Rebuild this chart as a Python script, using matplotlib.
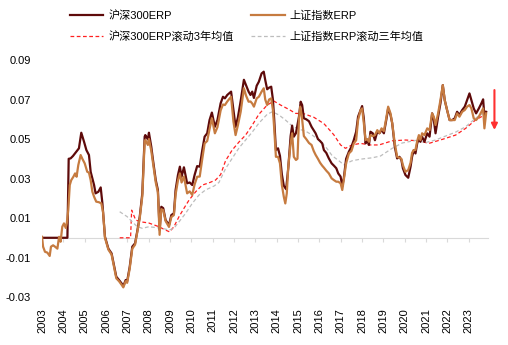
import matplotlib
matplotlib.use("Agg")
import matplotlib.pyplot as plt

plt.rcParams['font.family'] = ['Liberation Sans', 'Noto Sans CJK SC']

# ---- data (x = decimal year) ----
hs300_t = [2003.00, 2004.19, 2004.25, 2004.34, 2004.45, 2004.61, 2004.73, 2004.84, 2004.97, 2005.08,
           2005.20, 2005.28, 2005.44, 2005.51, 2005.64, 2005.75, 2005.83, 2005.95, 2006.11, 2006.26,
           2006.37, 2006.48, 2006.61, 2006.73, 2006.81, 2006.92, 2006.99, 2007.11, 2007.23, 2007.36,
           2007.46, 2007.58, 2007.70, 2007.81, 2007.84, 2007.96, 2008.01, 2008.12, 2008.20, 2008.33,
           2008.43, 2008.51, 2008.59, 2008.68, 2008.79, 2008.95, 2009.06, 2009.18, 2009.26, 2009.37,
           2009.46, 2009.54, 2009.65, 2009.72, 2009.80, 2009.92, 2010.04, 2010.15, 2010.27, 2010.39,
           2010.51, 2010.62, 2010.74, 2010.85, 2010.96, 2011.10, 2011.22, 2011.37, 2011.48, 2011.57,
           2011.68, 2011.86, 2011.97, 2012.07, 2012.18, 2012.31, 2012.46, 2012.56, 2012.68, 2012.77,
           2012.85, 2012.93, 2013.06, 2013.16, 2013.29, 2013.39, 2013.46, 2013.55, 2013.64, 2013.74,
           2013.82, 2013.88, 2013.96, 2014.06, 2014.15, 2014.24, 2014.33, 2014.44, 2014.54, 2014.65,
           2014.72, 2014.80, 2014.90, 2015.04, 2015.12, 2015.19, 2015.27, 2015.38, 2015.51, 2015.63,
           2015.73, 2015.82, 2015.93, 2016.03, 2016.13, 2016.21, 2016.32, 2016.44, 2016.57, 2016.68,
           2016.79, 2016.88, 2016.99, 2017.07, 2017.14, 2017.25, 2017.38, 2017.50, 2017.61, 2017.72,
           2017.81, 2017.93, 2018.00, 2018.08, 2018.16, 2018.24, 2018.32, 2018.39, 2018.50, 2018.60,
           2018.71, 2018.81, 2018.91, 2019.02, 2019.13, 2019.22, 2019.33, 2019.41, 2019.53, 2019.64,
           2019.75, 2019.84, 2019.91, 2020.03, 2020.16, 2020.27, 2020.34, 2020.42, 2020.50, 2020.58,
           2020.66, 2020.73, 2020.81, 2020.92, 2021.05, 2021.16, 2021.28, 2021.36, 2021.44, 2021.56,
           2021.67, 2021.78, 2021.87, 2021.98, 2022.10, 2022.22, 2022.34, 2022.45, 2022.56, 2022.69,
           2022.81, 2022.92, 2023.03, 2023.12, 2023.23, 2023.34, 2023.47, 2023.59, 2023.67, 2023.73,
           2023.81]
hs300_erp = [0.0, 0.0, 0.040, 0.0402, 0.0414, 0.0436, 0.0453, 0.0532, 0.0486, 0.0444,
             0.0419, 0.0334, 0.0267, 0.0225, 0.0233, 0.0255, 0.0174, 0.0005, -0.0055, -0.0079,
             -0.0138, -0.0197, -0.0214, -0.0231, -0.0244, -0.0214, -0.0220, -0.0147, -0.0045, -0.0028,
             0.0031, 0.0107, 0.0225, 0.0512, 0.0520, 0.0498, 0.0532, 0.0461, 0.0394, 0.0292,
             0.0242, 0.0040, 0.0157, 0.0150, 0.0090, 0.0064, 0.0115, 0.0124, 0.0242, 0.0318,
             0.0360, 0.0309, 0.0357, 0.0318, 0.0276, 0.0280, 0.0267, 0.0318, 0.0363, 0.0360,
             0.0444, 0.0512, 0.0529, 0.0596, 0.0634, 0.0562, 0.0596, 0.0681, 0.0714, 0.0706,
             0.0723, 0.0740, 0.0647, 0.0562, 0.0610, 0.0693, 0.0800, 0.0773, 0.0740, 0.0723,
             0.0740, 0.0708, 0.0770, 0.0790, 0.0832, 0.0841, 0.0799, 0.0752, 0.0760, 0.0765,
             0.0700, 0.0600, 0.0444, 0.0453, 0.0415, 0.0320, 0.0263, 0.0246, 0.0355, 0.0515,
             0.0568, 0.0512, 0.0530, 0.0613, 0.0689, 0.0672, 0.0605, 0.0600, 0.0590, 0.0562,
             0.0545, 0.0529, 0.0500, 0.0490, 0.0478, 0.0444, 0.0430, 0.0402, 0.0377, 0.0365,
             0.0352, 0.0326, 0.0310, 0.0262, 0.0300, 0.0400, 0.0436, 0.0461, 0.0495, 0.0537,
             0.0613, 0.0647, 0.0667, 0.0605, 0.0478, 0.0495, 0.0470, 0.0537, 0.0529, 0.0494,
             0.0537, 0.0529, 0.0546, 0.0529, 0.0596, 0.0655, 0.0622, 0.0580, 0.0461, 0.0402,
             0.0410, 0.0394, 0.0352, 0.0318, 0.0304, 0.0360, 0.0410, 0.0444, 0.0427, 0.0478,
             0.0503, 0.0486, 0.0512, 0.0486, 0.0529, 0.0512, 0.0630, 0.0596, 0.0529, 0.0613,
             0.0681, 0.0773, 0.0697, 0.0647, 0.0596, 0.0596, 0.0605, 0.0638, 0.0622, 0.0647,
             0.0664, 0.0697, 0.0731, 0.0697, 0.0655, 0.0630, 0.0655, 0.0681, 0.0701, 0.0613,
             0.0638]

sse_t = [2003.00, 2003.05, 2003.14, 2003.25, 2003.36, 2003.42, 2003.52, 2003.61, 2003.72, 2003.80,
         2003.87, 2003.95, 2004.03, 2004.11, 2004.16, 2004.23, 2004.30, 2004.37, 2004.47, 2004.55,
         2004.62, 2004.70, 2004.81, 2004.89, 2005.00, 2005.12, 2005.20, 2005.28, 2005.36, 2005.44,
         2005.54, 2005.67, 2005.78, 2005.86, 2005.95, 2006.11, 2006.26, 2006.37, 2006.48, 2006.61,
         2006.73, 2006.81, 2006.92, 2006.99, 2007.11, 2007.23, 2007.36, 2007.46, 2007.58, 2007.70,
         2007.81, 2007.84, 2007.96, 2008.01, 2008.12, 2008.20, 2008.33, 2008.43, 2008.51, 2008.59,
         2008.68, 2008.79, 2008.95, 2009.06, 2009.18, 2009.26, 2009.37, 2009.46, 2009.54, 2009.65,
         2009.72, 2009.80, 2009.92, 2010.04, 2010.15, 2010.27, 2010.39, 2010.51, 2010.62, 2010.74,
         2010.85, 2010.96, 2011.10, 2011.22, 2011.37, 2011.48, 2011.57, 2011.68, 2011.86, 2011.97,
         2012.07, 2012.18, 2012.31, 2012.46, 2012.56, 2012.68, 2012.77, 2012.85, 2012.93, 2013.06,
         2013.16, 2013.29, 2013.39, 2013.46, 2013.55, 2013.64, 2013.74, 2013.82, 2013.88, 2013.96,
         2014.06, 2014.15, 2014.24, 2014.33, 2014.40, 2014.47, 2014.54, 2014.65, 2014.72, 2014.80,
         2014.90, 2014.97, 2015.04, 2015.10, 2015.17, 2015.27, 2015.38, 2015.51, 2015.63, 2015.73,
         2015.82, 2015.93, 2016.03, 2016.13, 2016.21, 2016.32, 2016.44, 2016.57, 2016.68, 2016.79,
         2016.88, 2016.99, 2017.07, 2017.14, 2017.25, 2017.38, 2017.50, 2017.61, 2017.72, 2017.81,
         2017.93, 2018.00, 2018.08, 2018.16, 2018.24, 2018.32, 2018.39, 2018.50, 2018.60, 2018.71,
         2018.81, 2018.91, 2019.02, 2019.13, 2019.22, 2019.33, 2019.41, 2019.53, 2019.64, 2019.75,
         2019.84, 2019.91, 2020.03, 2020.16, 2020.27, 2020.34, 2020.42, 2020.50, 2020.58, 2020.66,
         2020.73, 2020.81, 2020.92, 2021.05, 2021.16, 2021.28, 2021.36, 2021.44, 2021.56, 2021.67,
         2021.78, 2021.87, 2021.98, 2022.10, 2022.22, 2022.34, 2022.45, 2022.56, 2022.69, 2022.81,
         2022.92, 2023.03, 2023.12, 2023.23, 2023.34, 2023.47, 2023.59, 2023.67, 2023.73, 2023.81]
sse_erp = [0.0005, -0.0045, -0.0071, -0.0075, -0.0092, -0.0045, -0.0038, -0.0045, -0.0055, 0.0005,
           -0.0020, 0.0056, 0.0073, 0.0050, 0.0073, 0.0140, 0.0267, 0.0292, 0.0309, 0.0326,
           0.0309, 0.0368, 0.0419, 0.0400, 0.0377, 0.0334, 0.0330, 0.0292, 0.0233, 0.0208,
           0.0183, 0.0180, 0.0174, 0.0130, 0.0000, -0.0060, -0.0085, -0.0145, -0.0205, -0.0220,
           -0.0238, -0.0251, -0.0220, -0.0228, -0.0155, -0.0055, -0.0035, 0.0025, 0.0100, 0.0210,
           0.0490, 0.0495, 0.0470, 0.0500, 0.0440, 0.0380, 0.0280, 0.0230, 0.0015, 0.0145,
           0.0140, 0.0085, 0.0055, 0.0105, 0.0115, 0.0220, 0.0290, 0.0326, 0.0280, 0.0310,
           0.0270, 0.0225, 0.0235, 0.0217, 0.0270, 0.0309, 0.0310, 0.0400, 0.0478, 0.0490,
           0.0550, 0.0605, 0.0529, 0.0560, 0.0645, 0.0675, 0.0672, 0.0690, 0.0714, 0.0588,
           0.0520, 0.0570, 0.0638, 0.0757, 0.0720, 0.0689, 0.0690, 0.0680, 0.0664, 0.0706,
           0.0714, 0.0740, 0.0757, 0.0700, 0.0672, 0.0700, 0.0706, 0.0647, 0.0554, 0.0410,
           0.0410, 0.0377, 0.0267, 0.0208, 0.0174, 0.0225, 0.0360, 0.0478, 0.0529, 0.0410,
           0.0394, 0.0400, 0.0600, 0.0664, 0.0620, 0.0515, 0.0500, 0.0480, 0.0470, 0.0440,
           0.0420, 0.0400, 0.0380, 0.0365, 0.0355, 0.0340, 0.0326, 0.0301, 0.0292, 0.0284,
           0.0284, 0.0276, 0.0242, 0.0292, 0.0377, 0.0427, 0.0440, 0.0478, 0.0494, 0.0596,
           0.0647, 0.0655, 0.0580, 0.0495, 0.0500, 0.0486, 0.0520, 0.0515, 0.0520, 0.0545,
           0.0530, 0.0554, 0.0540, 0.0605, 0.0664, 0.0630, 0.0580, 0.0478, 0.0410, 0.0405,
           0.0400, 0.0368, 0.0334, 0.0343, 0.0380, 0.0430, 0.0444, 0.0445, 0.0490, 0.0520,
           0.0495, 0.0529, 0.0520, 0.0554, 0.0545, 0.0630, 0.0613, 0.0571, 0.0630, 0.0697,
           0.0773, 0.0697, 0.0647, 0.0596, 0.0596, 0.0596, 0.0630, 0.0613, 0.0638, 0.0647,
           0.0664, 0.0672, 0.0655, 0.0605, 0.0596, 0.0613, 0.0638, 0.0655, 0.0554, 0.0630]

hs300_ma_t = [2006.64, 2007.15, 2007.20, 2007.39, 2007.62, 2008.00, 2008.48, 2008.79, 2008.98, 2009.18,
              2009.42, 2009.65, 2009.89, 2010.20, 2010.51, 2010.82, 2011.13, 2011.37, 2011.60, 2011.91,
              2012.23, 2012.54, 2012.85, 2013.16, 2013.55, 2013.87, 2014.18, 2014.57, 2014.88, 2015.27,
              2015.74, 2016.21, 2016.67, 2016.99, 2017.22, 2017.53, 2017.92, 2018.39, 2018.79, 2019.41,
              2020.03, 2020.66, 2021.13, 2021.75, 2022.38, 2022.85, 2023.31, 2023.62, 2023.81]
hs300_ma = [0.0, 0.0, 0.0140, 0.0090, 0.0081, 0.0075, 0.0056, 0.0039, 0.0030, 0.0056,
            0.0107, 0.0149, 0.0191, 0.0233, 0.0267, 0.0278, 0.0292, 0.0320, 0.0390, 0.0444,
            0.0485, 0.0520, 0.0570, 0.0625, 0.0672, 0.0692, 0.0672, 0.0650, 0.0630, 0.0628,
            0.0610, 0.0578, 0.0522, 0.0470, 0.0453, 0.0470, 0.0478, 0.0470, 0.0470, 0.0491,
            0.0495, 0.0491, 0.0478, 0.0498, 0.0520, 0.0554, 0.0596, 0.0615, 0.0632]

sse_ma_t = [2006.64, 2006.99, 2007.23, 2007.46, 2007.70, 2008.01, 2008.64, 2008.95, 2009.18, 2009.42,
            2009.73, 2010.04, 2010.35, 2010.66, 2011.06, 2011.29, 2011.60, 2011.91, 2012.23, 2012.54,
            2012.85, 2013.16, 2013.55, 2013.79, 2014.10, 2014.41, 2014.72, 2015.04, 2015.35, 2015.66,
            2015.97, 2016.29, 2016.60, 2016.91, 2017.14, 2017.53, 2017.92, 2018.47, 2018.86, 2019.41,
            2019.88, 2020.50, 2020.97, 2021.44, 2021.91, 2022.38, 2022.85, 2023.31, 2023.62, 2023.81]
sse_ma = [0.0132, 0.0107, 0.0081, 0.0056, 0.0048, 0.0056, 0.0048, 0.0039, 0.0048, 0.0081,
          0.0124, 0.0174, 0.0216, 0.0242, 0.0262, 0.0280, 0.0350, 0.0402, 0.0455, 0.0495,
          0.0535, 0.0580, 0.0625, 0.0638, 0.0622, 0.0596, 0.0566, 0.0550, 0.0540, 0.0520,
          0.0495, 0.0461, 0.0415, 0.0390, 0.0370, 0.0390, 0.0398, 0.0405, 0.0414, 0.0453,
          0.0480, 0.0493, 0.0482, 0.0495, 0.0515, 0.0535, 0.0562, 0.0605, 0.0628, 0.0625]

years = list(range(2003, 2024))
y_ticks = [-0.03, -0.01, 0.01, 0.03, 0.05, 0.07, 0.09]
labels = ['沪深300ERP', '上证指数ERP', '沪深300ERP滚动3年均值', '上证指数ERP滚动三年均值']

# arrow at the right edge: from / to value
arrow_x = 2024.2
arrow_from, arrow_to = 0.0748, 0.0546

# ---- figure ----
fig = plt.figure(figsize=(5.08, 3.45), dpi=100)
ax = fig.add_axes([0.0827, 0.139, 0.878, 0.687])

l3, = ax.plot(hs300_ma_t, hs300_ma, color='#FF2020', lw=0.9, ls=(0, (3, 2)), zorder=2)
l4, = ax.plot(sse_ma_t, sse_ma, color='#BDBDBD', lw=0.9, ls=(0, (3, 2)), zorder=2)
l1, = ax.plot(hs300_t, hs300_erp, color='#5E0A0A', lw=1.6, zorder=3)
l2, = ax.plot(sse_t, sse_erp, color='#C67B40', lw=1.6, zorder=4)

ax.set_xlim(2003, 2023.9)
ax.set_ylim(-0.03, 0.09)
ax.set_yticks(y_ticks)
ax.set_yticklabels([f'{v:.2f}' for v in y_ticks])
ax.set_xticks(years)
ax.set_xticklabels([str(y) for y in years], rotation=90)
ax.tick_params(axis='both', length=0, labelsize=8, colors='black')
ax.tick_params(axis='y', pad=8)
ax.tick_params(axis='x', pad=8)
for s in ax.spines.values():
    s.set_visible(False)

# zero line with small ticks, like the Excel category axis
zero = (0 - (-0.03)) / (0.09 - (-0.03))
sec = ax.secondary_xaxis(zero)
sec.set_xticks(years)
sec.set_xticklabels([])
sec.tick_params(length=3, width=0.8, color='#D9D9D9', direction='out')
for s in sec.spines.values():
    s.set_color('#D9D9D9')

ax.annotate('', xy=(arrow_x, arrow_to), xytext=(arrow_x, arrow_from),
            arrowprops=dict(arrowstyle='-|>', color='#FF3030', lw=1.5,
                            mutation_scale=9, shrinkA=0, shrinkB=0),
            annotation_clip=False)

fig.legend([l1, l3, l2, l4], [labels[0], labels[2], labels[1], labels[3]],
           ncol=2, loc='upper center', bbox_to_anchor=(0.486, 1.0), frameon=False,
           fontsize=8, handlelength=3.0, handletextpad=0.45, columnspacing=1.6,
           labelspacing=0.95)

fig.savefig('out.png', dpi=100)
